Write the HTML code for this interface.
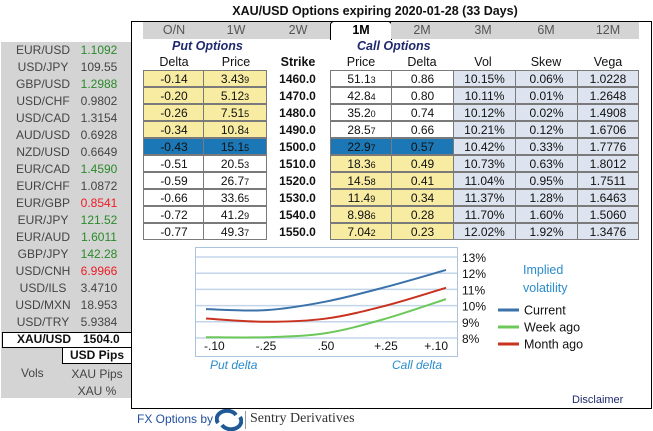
<!DOCTYPE html>
<html><head><meta charset="utf-8">
<style>
*{margin:0;padding:0;box-sizing:border-box}
body{width:653px;height:431px;background:#fff;font-family:"Liberation Sans",sans-serif;font-size:12px;color:#111;position:relative;overflow:hidden}
.a{position:absolute}
.c{text-align:center}
#left{left:1px;top:42px;width:131px;height:356px;background:#d4d4d4}
.lr{position:absolute;left:0;width:131px;height:17px;line-height:17px;color:#444}
.lr .n{position:absolute;left:0;width:84px;text-align:center}
.lr .v{position:absolute;left:74px;width:48px;text-align:center}
.g{color:#2a8a2a}.r{color:#ee1c25}
#main{left:131px;top:21px;width:521px;height:388px;border:1.5px solid #000}
.tab{position:absolute;top:22px;height:17px;line-height:17px;background:#d4d4d4;color:#555;text-align:center;font-size:12.5px}
.cell{position:absolute;height:17px;line-height:16px;text-align:center;border:1.5px solid #7a7a7a}
.sub{font-size:9px}
.y{background:#f8eca2}.w{background:#fff}.h{background:#1b77b5}.lb{background:#dde4ef}
.hd{position:absolute;top:54px;height:16px;line-height:16px;text-align:center;font-size:12.5px}
</style></head><body>
<div class="a c" style="left:200px;top:4px;width:350px;white-space:nowrap;font-weight:bold;font-size:12.5px">XAU/USD Options expiring 2020-01-28 (33 Days)</div>
<div id="left" class="a"></div>
<div class="a" id="main"></div>
<div class="a" style="left:143px;top:22px;width:495px;height:17px;background:#d4d4d4"></div>
<div id="tabs"></div>
<div class="a" style="left:172px;top:39px;font-weight:bold;font-style:italic;color:#1f2a6e;font-size:12.5px">Put Options</div>
<div class="a" style="left:357px;top:39px;font-weight:bold;font-style:italic;color:#1f2a6e;font-size:12.5px">Call Options</div>
<div id="tbl"></div>
<svg class="a" style="left:0;top:0" width="653" height="431" id="chart"></svg>
<div class="a" style="left:572px;top:394px;color:#1f2a6e;font-size:11px">Disclaimer</div>
<div class="a" style="left:137px;top:412px;color:#1f4f9e;font-size:12px">FX Options by</div>
<svg class="a" style="left:215px;top:409px" width="28" height="22">
<path d="M3 14 A10 8 0 0 1 21 6" stroke="#1f5a96" stroke-width="4" fill="none"/>
<path d="M25 8 A10 8 0 0 1 7 16" stroke="#1f5a96" stroke-width="4" fill="none"/>
</svg>
<div class="a" style="left:245px;top:411px;width:1px;height:18px;background:#999"></div>
<div class="a" style="left:250px;top:411px;font-family:'Liberation Serif',serif;font-size:14px;color:#333">Sentry Derivatives</div>
<script>
const pairs=["EUR/USD","USD/JPY","GBP/USD","USD/CHF","USD/CAD","AUD/USD","NZD/USD","EUR/CAD","EUR/CHF","EUR/GBP","EUR/JPY","EUR/AUD","GBP/JPY","USD/CNH","USD/ILS","USD/MXN","USD/TRY"];
const rates=["1.1092","109.55","1.2988","0.9802","1.3154","0.6928","0.6649","1.4590","1.0872","0.8541","121.52","1.6011","142.28","6.9966","3.4710","18.953","5.9384"];
const rateCls=["g","","g","","","","","g","","r","g","g","g","r","","",""];
const left=document.getElementById('left');
pairs.forEach((p,i)=>{const d=document.createElement('div');d.className='lr';d.style.top=(i*17)+'px';


d.innerHTML='<span class="n">'+p+'</span><span class="v '+rateCls[i]+'">'+rates[i]+'</span>';left.appendChild(d);});
left.insertAdjacentHTML('beforeend','<div class="a" style="left:1px;top:290px;width:130px;height:16px;background:#fff;border:1.5px solid #000;font-weight:bold;line-height:13px"><span class="a" style="left:14px">XAU/USD</span><span class="a" style="left:80px">1504.0</span></div>'+
'<div class="a c" style="left:61px;top:305px;width:70px;height:17px;background:#fff;border:1.5px solid #000;font-weight:bold;line-height:14px">USD Pips</div>'+
'<div class="a" style="left:20px;top:324px;color:#444">Vols</div>'+
'<div class="a c" style="left:61px;top:325px;width:70px;color:#444">XAU Pips</div>'+
'<div class="a c" style="left:61px;top:342px;width:70px;color:#444">XAU %</div>');
const tabs=["O/N","1W","2W","1M","2M","3M","6M","12M"];
const tc=[174,236,298,361,422,483,546,608];
const tabsEl=document.getElementById('tabs');
tabs.forEach((t,i)=>{const d=document.createElement('div');d.className='tab';


d.style.left=(tc[i]-31)+'px';d.style.width='62px';d.textContent=t;
if(t==='1M'){d.style.background='#fff';d.style.border='1px solid #000';d.style.borderBottom='none';d.style.borderRadius='4px 4px 0 0';d.style.color='#000';d.style.fontWeight='bold';d.style.top='21px';d.style.height='19px';}
tabsEl.appendChild(d);});
const heads=["Delta","Price","Strike","Price","Delta","Vol","Skew","Vega"];
const tbl=document.getElementById('tbl');
heads.forEach((h,i)=>{const d=document.createElement('div');d.className='hd';


d.style.left=(tc[i]-31)+'px';d.style.width='62px';d.textContent=h;if(h==='Strike')d.style.fontWeight='bold';tbl.appendChild(d);});
const putD=["-0.14","-0.20","-0.26","-0.34","-0.43","-0.51","-0.59","-0.66","-0.72","-0.77"];
const putP=[["3.43","9"],["5.12","3"],["7.51","5"],["10.8","4"],["15.1","5"],["20.5","3"],["26.7","7"],["33.6","5"],["41.2","9"],["49.3","7"]];
const strikes=["1460.0","1470.0","1480.0","1490.0","1500.0","1510.0","1520.0","1530.0","1540.0","1550.0"];
const callP=[["51.1","3"],["42.8","4"],["35.2","0"],["28.5","7"],["22.9","7"],["18.3","6"],["14.5","8"],["11.4","9"],["8.98","6"],["7.04","2"]];
const callD=["0.86","0.80","0.74","0.66","0.57","0.49","0.41","0.34","0.28","0.23"];
const vols=["10.15%","10.11%","10.12%","10.21%","10.42%","10.73%","11.04%","11.37%","11.70%","12.02%"];
const skews=["0.06%","0.01%","0.02%","0.12%","0.33%","0.63%","0.95%","1.28%","1.60%","1.92%"];
const vegas=["1.0228","1.2648","1.4908","1.6706","1.7776","1.8012","1.7511","1.6463","1.5060","1.3476"];
const colX=[[143,61],[203,63],[266,62],[330,62],[391,62],[453,62],[515,62],[577,61]];
function cell(i,c,cls,html,bold){const d=document.createElement('div');d.className='cell '+cls;


d.style.left=colX[c][0]+'px';d.style.width=(colX[c][1]+1)+'px';d.style.top=(70+i*17)+'px';d.innerHTML=html;
if(bold){d.style.fontWeight='bold';d.style.border='none';d.style.lineHeight='19px';}tbl.appendChild(d);}
for(let i=0;i<10;i++){
 const pc=i<4?'y':(i===4?'h':'w'), cc=i<4?'w':(i===4?'h':'y');
 cell(i,0,pc,putD[i]);cell(i,1,pc,putP[i][0]+'<span class="sub">'+putP[i][1]+'</span>');
 cell(i,2,'',strikes[i],true);
 cell(i,3,cc,callP[i][0]+'<span class="sub">'+callP[i][1]+'</span>');cell(i,4,cc,callD[i]);
 cell(i,5,'lb',vols[i]);cell(i,6,'lb',skews[i]);cell(i,7,'lb',vegas[i]);
}
// chart
const xCats=["-.10","-.25",".50","+.25","+.10"];
const yTicks=[8,9,10,11,12,13];
const current=[9.78,9.72,10.25,11.15,12.2];
const weekAgo=[8.05,8.05,8.3,9.2,10.4];
const monthAgo=[9.2,9.0,9.2,10.0,11.1];
const svg=document.getElementById('chart');const NS='http://www.w3.org/2000/svg';
const X=i=>206+i*60, Y=v=>338-(v-8)*16.2;
function el(t,a,txt){const e=document.createElementNS(NS,t);for(const k in a)e.setAttribute(k,a[k]);if(txt!==undefined)e.textContent=txt;svg.appendChild(e);return e;}
const frame=el('rect',{x:195.5,y:247.5,width:262,height:109,fill:'#fff',stroke:'#a9c4df','stroke-width':1});


yTicks.forEach(v=>{const l=el('line',{x1:196,x2:457,y1:Y(v),y2:Y(v),stroke:'#c3d5ea','stroke-width':1.5});


const t=el('text',{x:462,y:Y(v)+5,'font-size':12,fill:'#111'},v+'%');

});
xCats.forEach((c,i)=>{const t=el('text',{x:X(i)+(i===0?-2:i===4?2:0),y:350,'font-size':12,fill:'#111','text-anchor':i===0?'start':i===4?'end':'middle'},c);

});
function path(vals){const p=vals.map((v,i)=>[X(i),Y(v)]);let d='M'+p[0][0]+' '+p[0][1];
for(let i=0;i<p.length-1;i++){const p0=p[Math.max(0,i-1)],p1=p[i],p2=p[i+1],p3=p[Math.min(p.length-1,i+2)];
d+=' C'+(p1[0]+(p2[0]-p0[0])/6)+' '+(p1[1]+(p2[1]-p0[1])/6)+' '+(p2[0]-(p3[0]-p1[0])/6)+' '+(p2[1]-(p3[1]-p1[1])/6)+' '+p2[0]+' '+p2[1];}return d;}
[[weekAgo,'#6dc85a','week-ago-line'],[monthAgo,'#c8321e','month-ago-line'],[current,'#3b72aa','current-line']].forEach(s=>{
const l=el('path',{d:path(s[0]),fill:'none',stroke:s[1],'stroke-width':2});

});
const t1=el('text',{x:523,y:274,'font-size':12.5,fill:'#2a8ccc'},'Implied');


const t2=el('text',{x:523,y:292,'font-size':12.5,fill:'#2a8ccc'},'volatility');


[['Current','#3b72aa'],['Week ago','#6dc85a'],['Month ago','#c8321e']].forEach((e,i)=>{
const y=310+i*17;
const ln=el('line',{x1:498,x2:519,y1:y,y2:y,stroke:e[1],'stroke-width':3});


const tx=el('text',{x:524,y:y+4.5,'font-size':12.5,fill:'#111'},e[0]);

});
const pd=el('text',{x:210,y:369,'font-size':12,fill:'#2a8ccc','font-style':'italic'},'Put delta');


const cd=el('text',{x:392,y:369,'font-size':12,fill:'#2a8ccc','font-style':'italic'},'Call delta');


</script>
</body></html>
